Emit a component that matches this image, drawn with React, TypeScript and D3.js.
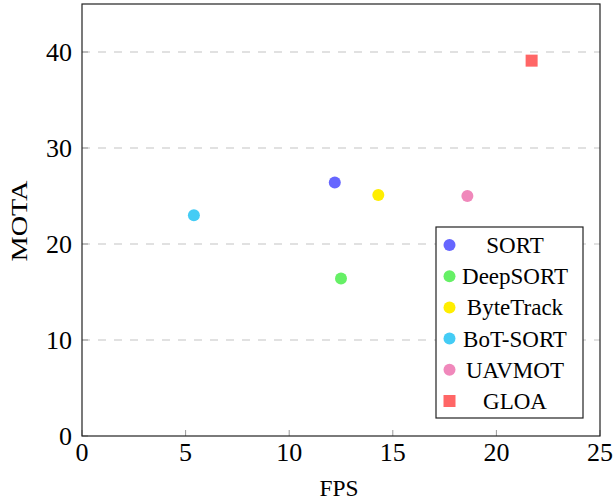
import React from "react";
import * as d3 from "d3";

const methods = ["SORT", "DeepSORT", "ByteTrack", "BoT-SORT", "UAVMOT", "GLOA"];
const fps = [12.2, 12.5, 14.3, 5.4, 18.6, 21.7];
const mota = [26.4, 16.4, 25.1, 23.0, 25.0, 39.1];
const colors = ["#6666ff", "#66f066", "#ffee00", "#44ccf5", "#f088bb", "#ff6666"];
const shapes = ["circle", "circle", "circle", "circle", "circle", "square"];
const xTicks = [0, 5, 10, 15, 20, 25];
const yTicks = [0, 10, 20, 30, 40];

const W = 613;
const H = 502;
const margin = { top: 4, right: 13, bottom: 66, left: 82 };
const font = "Liberation Serif, Times New Roman, DejaVu Serif, serif";

const App = () => {
  const x = d3.scaleLinear().domain([0, 25]).range([margin.left, W - margin.right]);
  const y = d3.scaleLinear().domain([0, 45]).range([H - margin.bottom, margin.top]);
  const x0 = x(0);
  const x1 = x(25);
  const y0 = y(0);
  const y1 = y(45);

  const legX = 436;
  const legY = 227;
  const legW = 147;
  const rowH = 31.2;

  return (
    <svg width={W} height={H} style={{ position: "absolute", left: 0, top: 0, fontFamily: font }}>
      <rect width={W} height={H} fill="white" />
      {yTicks.filter((t) => t > 0).map((t) => (
        <line key={"g" + t} x1={x0} x2={x1} y1={y(t)} y2={y(t)} stroke="#c4c4c4" strokeWidth={1.2} strokeDasharray="8,8" />
      ))}
      {yTicks.map((t) => (
        <g key={"y" + t}>
          <line x1={x0} x2={x0 + 6} y1={y(t)} y2={y(t)} stroke="#999" />
          <text x={x0 - 10} y={y(t) + 9} textAnchor="end" fontSize={26}>{t}</text>
        </g>
      ))}
      {xTicks.map((t) => (
        <g key={"x" + t}>
          <line x1={x(t)} x2={x(t)} y1={y0} y2={y0 - 6} stroke="#999" />
          <text x={x(t)} y={y0 + 25} textAnchor="middle" fontSize={26}>{t}</text>
        </g>
      ))}
      <rect x={x0} y={y1} width={x1 - x0} height={y0 - y1} fill="none" stroke="#222" strokeWidth={1.2} />
      <text x={339} y={496} textAnchor="middle" fontSize={23} textLength={39} lengthAdjust="spacingAndGlyphs">FPS</text>
      <text transform={`translate(27,221) rotate(-90)`} textAnchor="middle" fontSize={23} textLength={81} lengthAdjust="spacingAndGlyphs">MOTA</text>
      {methods.map((m, i) =>
        shapes[i] === "square" ? (
          <rect key={m} x={x(fps[i]) - 6} y={y(mota[i]) - 6} width={12} height={12} fill={colors[i]} />
        ) : (
          <circle key={m} cx={x(fps[i])} cy={y(mota[i])} r={6} fill={colors[i]} />
        )
      )}
      <rect x={legX} y={legY} width={legW} height={191} fill="white" stroke="#222" strokeWidth={1.2} />
      {methods.map((m, i) => {
        const cy = legY + 18 + i * rowH;
        return (
          <g key={"l" + m}>
            {shapes[i] === "square" ? (
              <rect x={legX + 7.5} y={cy - 6} width={12} height={12} fill={colors[i]} />
            ) : (
              <circle cx={legX + 13.5} cy={cy} r={6} fill={colors[i]} />
            )}
            <text x={legX + 79} y={cy + 8} textAnchor="middle" fontSize={23}>{m}</text>
          </g>
        );
      })}
    </svg>
  );
};

export default App;
